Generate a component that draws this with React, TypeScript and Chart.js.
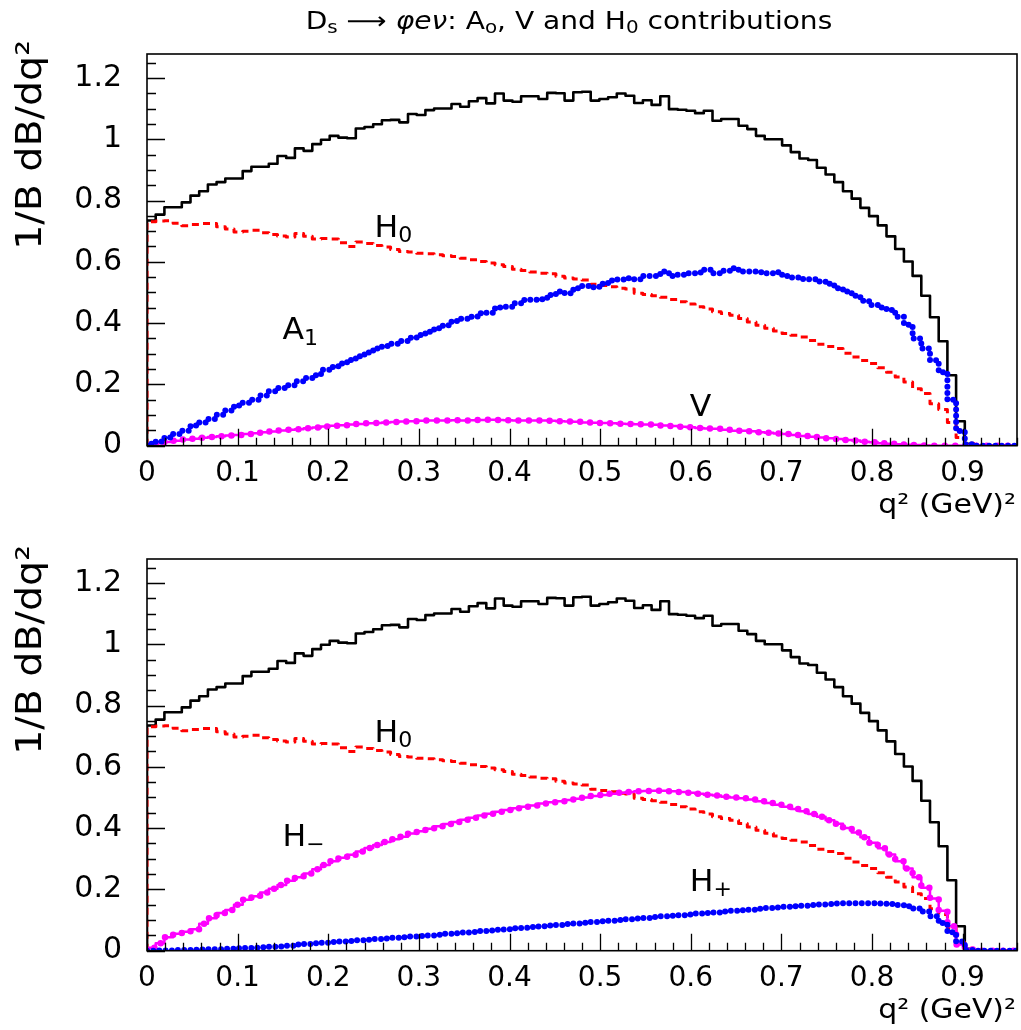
import React, { useEffect, useRef } from "react";
import { Chart, registerables } from "chart.js";

Chart.register(...registerables);

// ---------------- data ----------------
// 100 bins between 0 and 0.96 (q^2 in GeV^2)
const TOTAL = [
  0.735, 0.754, 0.778, 0.778, 0.794, 0.816, 0.83, 0.852, 0.86, 0.872,
  0.872, 0.896, 0.91, 0.91, 0.92, 0.945, 0.939, 0.97, 0.962, 0.984,
  0.998, 1.011, 1.005, 1.003, 1.035, 1.04, 1.049, 1.062, 1.063, 1.055,
  1.082, 1.079, 1.095, 1.1, 1.1, 1.115, 1.106, 1.124, 1.134, 1.117,
  1.149, 1.126, 1.122, 1.14, 1.14, 1.131, 1.151, 1.15, 1.126, 1.153,
  1.155, 1.126, 1.131, 1.137, 1.149, 1.142, 1.118, 1.127, 1.112, 1.14,
  1.098, 1.096, 1.093, 1.085, 1.093, 1.06, 1.066, 1.066, 1.044, 1.033,
  1.011, 1.0, 1.0, 0.98, 0.958, 0.937, 0.932, 0.907, 0.885, 0.86,
  0.83, 0.806, 0.776, 0.749, 0.719, 0.683, 0.642, 0.601, 0.554, 0.489,
  0.419, 0.341, 0.23, 0.08, 0.006, 0, 0, 0, 0, 0,
];

const H0 = [
  0.731, 0.733, 0.734, 0.726, 0.718, 0.722, 0.725, 0.725, 0.714, 0.707,
  0.697, 0.7, 0.703, 0.695, 0.689, 0.684, 0.681, 0.692, 0.683, 0.674,
  0.676, 0.674, 0.662, 0.65, 0.665, 0.66, 0.653, 0.648, 0.64, 0.634,
  0.632, 0.628, 0.626, 0.623, 0.62, 0.617, 0.612, 0.607, 0.601, 0.596,
  0.59, 0.585, 0.576, 0.572, 0.567, 0.563, 0.561, 0.553, 0.547, 0.544,
  0.541, 0.527, 0.523, 0.519, 0.514, 0.511, 0.497, 0.493, 0.489, 0.484,
  0.477, 0.47, 0.462, 0.453, 0.446, 0.437, 0.431, 0.426, 0.415, 0.404,
  0.393, 0.383, 0.374, 0.366, 0.36, 0.355, 0.343, 0.331, 0.324, 0.317,
  0.302, 0.289, 0.278, 0.268, 0.254, 0.24, 0.224, 0.208, 0.186, 0.17,
  0.137, 0.118, 0.076, 0.027, 0.008, 0, 0, 0, 0, 0,
];

const A1 = [
  0.006, 0.014, 0.027, 0.038, 0.049, 0.066, 0.076, 0.087, 0.101, 0.115,
  0.131, 0.14, 0.15, 0.164, 0.178, 0.188, 0.197, 0.21, 0.221, 0.23,
  0.248, 0.257, 0.268, 0.28, 0.292, 0.304, 0.317, 0.325, 0.333, 0.342,
  0.352, 0.361, 0.372, 0.383, 0.393, 0.407, 0.414, 0.421, 0.432, 0.434,
  0.451, 0.453, 0.465, 0.475, 0.476, 0.478, 0.492, 0.503, 0.497, 0.514,
  0.521, 0.517, 0.528, 0.539, 0.542, 0.546, 0.543, 0.554, 0.554, 0.568,
  0.554, 0.558, 0.563, 0.565, 0.574, 0.563, 0.571, 0.579, 0.568, 0.568,
  0.566, 0.563, 0.566, 0.554, 0.549, 0.544, 0.543, 0.536, 0.528, 0.514,
  0.503, 0.489, 0.473, 0.459, 0.451, 0.443, 0.421, 0.395, 0.35, 0.317,
  0.279, 0.24, 0.15, 0.048, 0.005, 0, 0, 0, 0, 0,
];

const V = [
  0.003, 0.008, 0.012, 0.016, 0.02, 0.023, 0.026, 0.028, 0.031, 0.033,
  0.035, 0.038, 0.041, 0.044, 0.046, 0.05, 0.052, 0.054, 0.057, 0.059,
  0.063, 0.065, 0.067, 0.069, 0.071, 0.073, 0.074, 0.076, 0.077, 0.079,
  0.08, 0.081, 0.082, 0.082, 0.082, 0.083, 0.082, 0.083, 0.084, 0.085,
  0.084, 0.083, 0.082, 0.082, 0.082, 0.082, 0.081, 0.08, 0.079, 0.078,
  0.076, 0.075, 0.074, 0.073, 0.072, 0.071, 0.07, 0.069, 0.068, 0.066,
  0.064, 0.062, 0.06, 0.058, 0.056, 0.055, 0.052, 0.049, 0.049, 0.047,
  0.044, 0.042, 0.04, 0.038, 0.035, 0.032, 0.029, 0.027, 0.024, 0.022,
  0.019, 0.017, 0.013, 0.011, 0.008, 0.006, 0.005, 0.003, 0.002, 0.001,
  0, 0, 0, 0, 0, 0, 0, 0, 0, 0,
];

const H_MINUS = [
  0.01, 0.024, 0.044, 0.055, 0.062, 0.07, 0.088, 0.106, 0.123, 0.133,
  0.15, 0.166, 0.178, 0.19, 0.202, 0.214, 0.228, 0.24, 0.252, 0.266,
  0.28, 0.292, 0.303, 0.313, 0.324, 0.335, 0.345, 0.355, 0.364, 0.372,
  0.382, 0.39, 0.398, 0.406, 0.413, 0.42, 0.427, 0.434, 0.441, 0.447,
  0.453, 0.459, 0.465, 0.47, 0.474, 0.48, 0.484, 0.488, 0.492, 0.496,
  0.5, 0.505, 0.508, 0.512, 0.515, 0.518, 0.52, 0.521, 0.522, 0.522,
  0.52, 0.518, 0.515, 0.512, 0.509, 0.506, 0.502, 0.5, 0.497, 0.493,
  0.488, 0.482, 0.476, 0.47, 0.462, 0.455, 0.446, 0.437, 0.426, 0.414,
  0.4, 0.386, 0.37, 0.352, 0.334, 0.314, 0.292, 0.268, 0.24, 0.205,
  0.17, 0.13, 0.08, 0.02, 0.004, 0, 0, 0, 0, 0,
];

const H_PLUS = [
  0.0, 0.001, 0.001, 0.002, 0.002, 0.003, 0.004, 0.005, 0.005, 0.006,
  0.008, 0.009, 0.01, 0.011, 0.013, 0.014, 0.016, 0.02, 0.022, 0.024,
  0.026, 0.028, 0.03, 0.032, 0.034, 0.036, 0.038, 0.04, 0.042, 0.044,
  0.046, 0.048, 0.05, 0.052, 0.055, 0.057, 0.059, 0.061, 0.064, 0.066,
  0.068, 0.07, 0.073, 0.075, 0.077, 0.08, 0.082, 0.084, 0.087, 0.089,
  0.091, 0.094, 0.096, 0.098, 0.1, 0.103, 0.105, 0.107, 0.11, 0.112,
  0.114, 0.116, 0.118, 0.121, 0.123, 0.125, 0.128, 0.13, 0.132, 0.134,
  0.137, 0.139, 0.141, 0.143, 0.145, 0.147, 0.149, 0.151, 0.152, 0.154,
  0.155, 0.155, 0.155, 0.155, 0.154, 0.152, 0.149, 0.145, 0.138, 0.128,
  0.112, 0.09, 0.06, 0.03, 0.002, 0, 0, 0, 0, 0,
];

const X_TICKS = [0, 0.1, 0.2, 0.3, 0.4, 0.5, 0.6, 0.7, 0.8, 0.9];
const Y_TICKS = [0, 0.2, 0.4, 0.6, 0.8, 1, 1.2];

// ---------------- layout / style ----------------
const X_MIN = 0;
const X_MAX = 0.96;
const Y_MIN = 0;
const Y_MAX = 1.278;
const X_MINOR = 0.02;
const Y_MINOR = 0.05;

const W = 1021;
const CH = 525;
const AREA_LEFT = 147;
const AREA_TOP = 54;
const AREA_RIGHT = 1017;
const AREA_BOTTOM = 445.7;
const FONT = '"DejaVu Sans", "Liberation Sans", Arial, sans-serif';

type Seg = { t: string; sub?: boolean; it?: boolean; dy?: number };

function drawRich(
  ctx: CanvasRenderingContext2D,
  segs: Seg[],
  x: number,
  y: number,
  size: number,
  align: "left" | "right" | "center",
  sx = 1
) {
  const fontFor = (s: Seg) =>
    `${s.it ? "italic " : ""}${s.sub ? Math.round(size * 0.7) : size}px ${FONT}`;
  let w = 0;
  for (const s of segs) {
    ctx.font = fontFor(s);
    w += ctx.measureText(s.t).width;
  }
  ctx.save();
  ctx.translate(x, y);
  ctx.scale(sx, 1);
  let cx = align === "left" ? 0 : align === "right" ? -w : -w / 2;
  ctx.textAlign = "left";
  ctx.textBaseline = "alphabetic";
  for (const s of segs) {
    ctx.font = fontFor(s);
    const dy = s.sub ? size * 0.18 + (s.dy || 0) : s.dy || 0;
    ctx.fillText(s.t, cx, dy);
    cx += ctx.measureText(s.t).width;
  }
  ctx.restore();
}

type LabelSpec = { segs: Seg[]; x: number; y: number };

function histPoints(values: number[]) {
  const w = (X_MAX - X_MIN) / values.length;
  const pts: { x: number; y: number }[] = [{ x: X_MIN, y: 0 }];
  values.forEach((v, i) => pts.push({ x: X_MIN + i * w, y: v }));
  pts.push({ x: X_MAX, y: values[values.length - 1] });
  return pts;
}

function lineDs(values: number[], color: string, width: number, dash: number[], cap: CanvasLineCap = "butt") {
  return {
    data: histPoints(values),
    borderColor: color,
    backgroundColor: color,
    borderWidth: width,
    borderDash: dash,
    borderCapStyle: cap,
    borderJoinStyle: "round" as CanvasLineJoin,
    stepped: "before" as const,
    pointRadius: 0,
    tension: 0,
    fill: false,
  };
}

function makeChart(
  canvas: HTMLCanvasElement,
  datasets: any[],
  labels: LabelSpec[],
  showTitle: boolean
) {
  const decor = {
    id: "decor",
    afterDatasetsDraw(chart: any) {
      const ctx: CanvasRenderingContext2D = chart.ctx;
      const xs = chart.scales.x;
      const ys = chart.scales.y;
      const { left, right, top, bottom } = chart.chartArea;
      ctx.save();
      ctx.strokeStyle = "#000";
      ctx.lineWidth = 1.6;
      ctx.strokeRect(left, top, right - left, bottom - top);
      ctx.lineWidth = 1.3;
      ctx.beginPath();
      const ny = Math.round((Y_MAX - Y_MIN) / Y_MINOR);
      for (let i = 0; i <= ny; i++) {
        const v = Y_MIN + i * Y_MINOR;
        if (v > Y_MAX + 1e-9) break;
        const py = Math.round(ys.getPixelForValue(v)) + 0.5;
        const len = i % 4 === 0 ? 18 : 9;
        ctx.moveTo(left, py);
        ctx.lineTo(left + len, py);
      }
      const nx = Math.round((X_MAX - X_MIN) / X_MINOR);
      for (let i = 0; i <= nx; i++) {
        const v = X_MIN + i * X_MINOR;
        const px = Math.round(xs.getPixelForValue(v)) + 0.5;
        const len = i % 5 === 0 ? 17 : 8;
        ctx.moveTo(px, bottom);
        ctx.lineTo(px, bottom - len);
      }
      ctx.stroke();

      ctx.fillStyle = "#000";
      // curve labels
      for (const l of labels) {
        drawRich(ctx, l.segs, xs.getPixelForValue(l.x), ys.getPixelForValue(l.y), 30, "left", 1.05);
      }
      // x axis title
      drawRich(ctx, [{ t: "q² (GeV)²" }], right - 1, bottom + 67, 26, "right", 1.15);
      // y axis title (rotated)
      ctx.save();
      ctx.translate(41, top - 14);
      ctx.rotate(-Math.PI / 2);
      drawRich(ctx, [{ t: "1/B dB/dq²" }], 0, 0, 35, "right", 1.13);
      ctx.restore();
      if (showTitle) {
        drawRich(
          ctx,
          [
            { t: "D" },
            { t: "s", sub: true },
            { t: " ⟶ " },
            { t: "φeν", it: true },
            { t: ": A" },
            { t: "o", sub: true },
            { t: ", V and H" },
            { t: "0", sub: true },
            { t: " contributions" },
          ],
          569,
          29,
          24,
          "center",
          1.17
        );
      }
      ctx.restore();
    },
  };

  return new Chart(canvas, {
    type: "line",
    data: { datasets },
    options: {
      animation: false,
      responsive: false,
      devicePixelRatio: 1,
      layout: { padding: { top: AREA_TOP, right: W - AREA_RIGHT, left: 0, bottom: 0 } },
      plugins: { legend: { display: false }, tooltip: { enabled: false }, title: { display: false } },
      scales: {
        x: {
          type: "linear",
          min: X_MIN,
          max: X_MAX,
          grid: { display: false, drawTicks: false },
          border: { display: false },
          afterBuildTicks: (s: any) => {
            s.ticks = X_TICKS.map((v) => ({ value: v }));
          },
          afterFit: (s: any) => {
            s.height = CH - AREA_BOTTOM;
          },
          ticks: {
            autoSkip: false,
            maxRotation: 0,
            minRotation: 0,
            padding: 11,
            color: "#000",
            font: { family: FONT, size: 28 },
            callback: (v: any) => String(v),
          },
        },
        y: {
          type: "linear",
          min: Y_MIN,
          max: Y_MAX,
          grid: { display: false, drawTicks: false },
          border: { display: false },
          afterBuildTicks: (s: any) => {
            s.ticks = Y_TICKS.map((v) => ({ value: v }));
          },
          afterFit: (s: any) => {
            s.width = AREA_LEFT;
          },
          ticks: {
            autoSkip: false,
            padding: 25,
            color: "#000",
            font: { family: FONT, size: 30 },
            callback: (v: any) => String(v),
          },
        },
      },
    },
    plugins: [decor],
  } as any);
}

function Panel({ kind }: { kind: "top" | "bottom" }) {
  const ref = useRef<HTMLCanvasElement | null>(null);
  useEffect(() => {
    if (!ref.current) return;
    let datasets: any[];
    let labels: LabelSpec[];
    if (kind === "top") {
      datasets = [
        lineDs(A1, "#0000ff", 6, [0, 6.3], "round"),
        lineDs(V, "#ff00ff", 6.5, [0, 10.5], "round"),
        lineDs(V, "#ff00ff", 2.5, []),
        lineDs(H0, "#ff0000", 3, [7, 5]),
        lineDs(TOTAL, "#000000", 2.6, []),
      ];
      labels = [
        { segs: [{ t: "H" }, { t: "0", sub: true }], x: 0.251, y: 0.681 },
        { segs: [{ t: "A" }, { t: "1", sub: true }], x: 0.1495, y: 0.347 },
        { segs: [{ t: "V" }], x: 0.599, y: 0.097 },
      ];
    } else {
      datasets = [
        lineDs(H_PLUS, "#0000ff", 6, [0, 6.3], "round"),
        lineDs(H_MINUS, "#ff00ff", 6.5, [0, 10.5], "round"),
        lineDs(H_MINUS, "#ff00ff", 2.5, []),
        lineDs(H0, "#ff0000", 3, [7, 5]),
        lineDs(TOTAL, "#000000", 2.6, []),
      ];
      labels = [
        { segs: [{ t: "H" }, { t: "0", sub: true }], x: 0.251, y: 0.681 },
        { segs: [{ t: "H" }, { t: "−", sub: true }], x: 0.1495, y: 0.343 },
        { segs: [{ t: "H" }, { t: "+", sub: true }], x: 0.599, y: 0.196 },
      ];
    }
    const chart = makeChart(ref.current, datasets, labels, kind === "top");
    return () => chart.destroy();
  }, [kind]);
  return (
    <canvas
      ref={ref}
      width={W}
      height={CH}
      style={{
        position: "absolute",
        left: 0,
        top: kind === "top" ? 0 : 505,
        width: W,
        height: CH,
      }}
    />
  );
}

export default function App() {
  return (
    <div style={{ position: "absolute", left: 0, top: 0, width: W, height: 1030, background: "#fff" }}>
      <Panel kind="top" />
      <Panel kind="bottom" />
    </div>
  );
}
